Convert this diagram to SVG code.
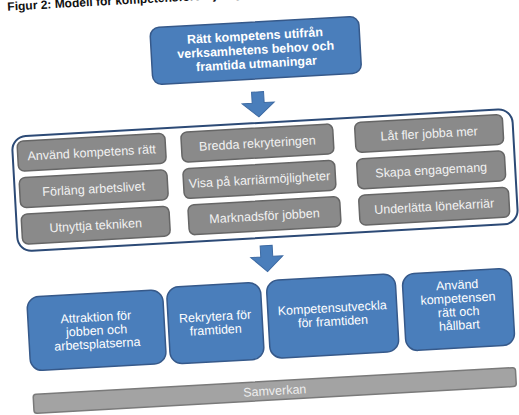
<svg xmlns="http://www.w3.org/2000/svg" width="519" height="415" viewBox="0 0 519 415">
<style>
text{font-family:"Liberation Sans",Arial,sans-serif;text-anchor:middle}
.title{font-size:12px;font-weight:bold;fill:#111;text-anchor:start}
.blue{fill:#4a7ebb;stroke:#36598a;stroke-width:1.5}
.bt{font-size:12.5px;fill:#fff}
.tt{font-size:12.5px;font-weight:bold;fill:#fff}
.pill{fill:#8a8a8a;stroke:#666;stroke-width:1.5}
.pt{font-size:12.5px;fill:#f2f2f2}
.frame{fill:#fff;stroke:#2c4a76;stroke-width:2}
.arrow{fill:#4a7ebb;stroke:#3d6aa3;stroke-width:1}
.bar{fill:#a3a3a3;stroke:#7a7a7a;stroke-width:1.5}
.st{font-size:12.5px;fill:#eee}
</style>
<rect width="519" height="415" fill="#fff"/>
<g transform="rotate(-3.2 259.5 207.5)">
<text class="title" x="19" y="-3">Figur 2: Modell för kompetensförsörjning</text>
<g id="goal">
<rect class="blue" x="160" y="22" width="209" height="57" rx="9"/>
<text class="tt" x="264.5" y="40">Rätt kompetens utifrån</text>
<text class="tt" x="264.5" y="54">verksamhetens behov och</text>
<text class="tt" x="264.5" y="68">framtida utmaningar</text>
</g>
<g id="connectors">
<path class="arrow" d="M258 92 H270 V103 H280 L264 117 L248 103 H258 Z"/>
<path class="arrow" d="M258 246 H270 V257 H280 L264 272 L248 257 H258 Z"/>
</g>
<g id="measures">
<rect class="frame" x="16" y="123" width="501" height="115" rx="14"/>
<g id="m1"><rect class="pill" x="21" y="128" width="148" height="30" rx="6"/><text class="pt" x="95" y="147.5">Använd kompetens rätt</text></g>
<g id="m2"><rect class="pill" x="185" y="128" width="152" height="30" rx="6"/><text class="pt" x="261" y="147.5">Bredda rekryteringen</text></g>
<g id="m3"><rect class="pill" x="359" y="128" width="148" height="30" rx="6"/><text class="pt" x="433" y="147.5">Låt fler jobba mer</text></g>
<g id="m4"><rect class="pill" x="21" y="164.5" width="148" height="30" rx="6"/><text class="pt" x="95" y="184">Förläng arbetslivet</text></g>
<g id="m5"><rect class="pill" x="185" y="164.5" width="152" height="30" rx="6"/><text class="pt" x="261" y="184">Visa på karriärmöjligheter</text></g>
<g id="m6"><rect class="pill" x="359" y="164.5" width="148" height="30" rx="6"/><text class="pt" x="433" y="184">Skapa engagemang</text></g>
<g id="m7"><rect class="pill" x="21" y="201" width="148" height="30" rx="6"/><text class="pt" x="95" y="220.5">Utnyttja tekniken</text></g>
<g id="m8"><rect class="pill" x="188" y="201" width="152" height="30" rx="6"/><text class="pt" x="264" y="220.5">Marknadsför jobben</text></g>
<g id="m9"><rect class="pill" x="359" y="201" width="150" height="30" rx="6"/><text class="pt" x="434" y="220.5">Underlätta lönekarriär</text></g>
</g>
<g id="b1"><rect class="blue" x="22" y="284" width="136" height="74" rx="12"/>
<text class="bt" x="90" y="312">Attraktion för</text><text class="bt" x="90" y="325.5">jobben och</text><text class="bt" x="90" y="339">arbetsplatserna</text></g>
<g id="b2"><rect class="blue" x="162" y="282" width="94" height="77" rx="12"/>
<text class="bt" x="209" y="318">Rekrytera för</text><text class="bt" x="209" y="331.5">framtiden</text></g>
<g id="b3"><rect class="blue" x="262" y="281" width="129" height="78" rx="12"/>
<text class="bt" x="326.5" y="316">Kompetensutveckla</text><text class="bt" x="326.5" y="329.5">för framtiden</text></g>
<g id="b4"><rect class="blue" x="398" y="282" width="109" height="77" rx="12"/>
<text class="bt" x="452.5" y="300">Använd</text><text class="bt" x="452.5" y="313.5">kompetensen</text><text class="bt" x="452.5" y="327">rätt och</text><text class="bt" x="452.5" y="340.5">hållbart</text></g>
<g id="samverkan"><rect class="bar" x="23" y="381.5" width="483" height="19" rx="3"/>
<text class="st" x="264.5" y="395.5">Samverkan</text></g>
</g>
</svg>
